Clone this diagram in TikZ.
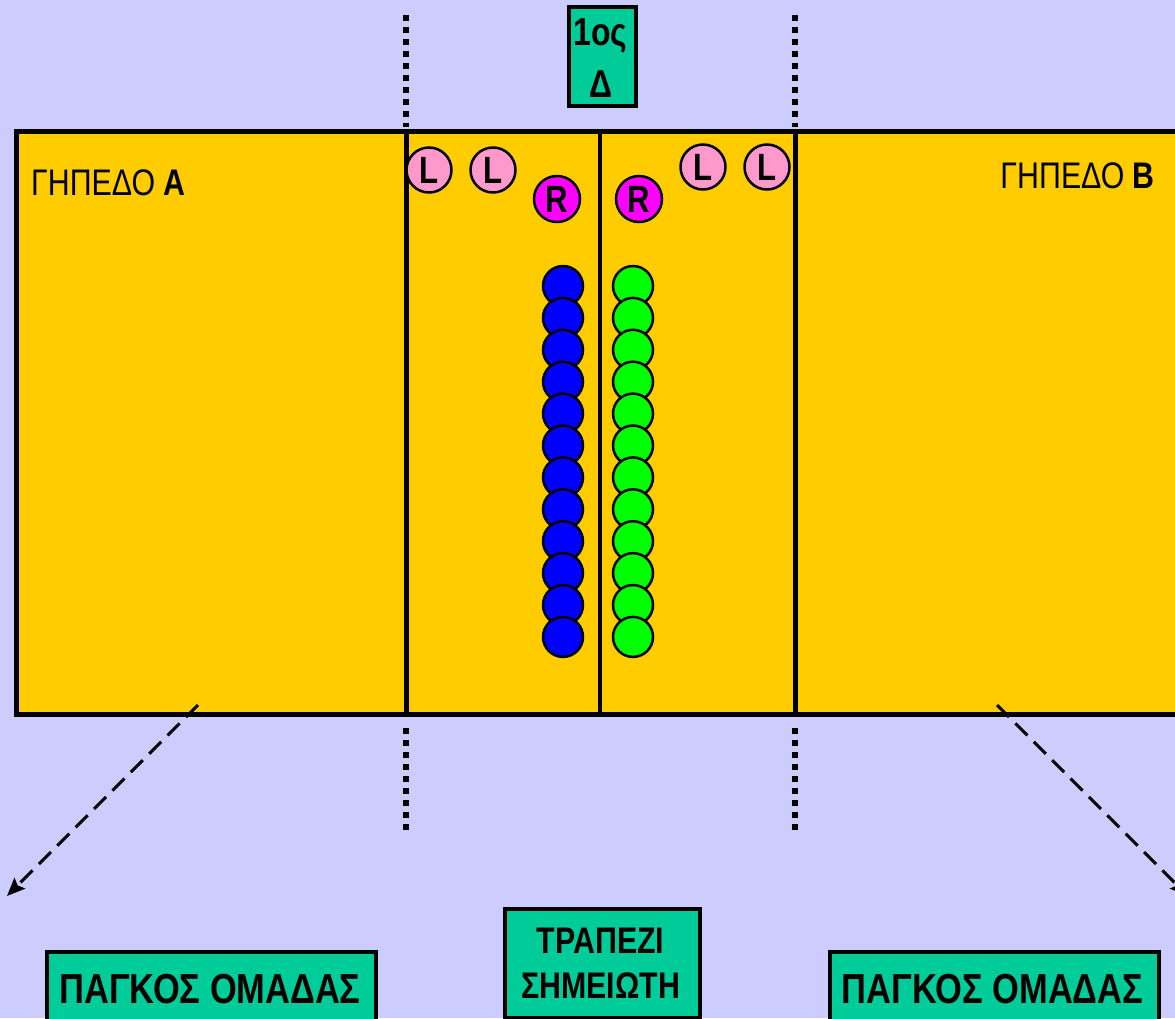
\documentclass[tikz,border=0pt]{standalone}
\usepackage{fontspec}
\setmainfont{Liberation Sans}
\newfontfamily\nar[FakeStretch=0.82]{Liberation Sans}
\usetikzlibrary{arrows.meta}
\definecolor{bgc}{HTML}{CCCCFF}
\definecolor{courtc}{HTML}{FFCC00}
\definecolor{boxc}{HTML}{00CC99}
\definecolor{pinkc}{HTML}{FF99CC}
\definecolor{magc}{HTML}{FF00FF}
\definecolor{bluec}{HTML}{0000FF}
\definecolor{greenc}{HTML}{00FF00}
\begin{document}
\begin{tikzpicture}[x=1pt,y=-1pt,
  courtline/.style={line width=5pt},
  dotline/.style={line width=5.5pt, dash pattern=on 5.5pt off 6.5pt},
  lcirc/.style={circle, draw, line width=2.5pt, fill=pinkc, minimum size=45pt, inner sep=0pt, font=\nar\bfseries\fontsize{38}{38}\selectfont},
  rcirc/.style={lcirc, fill=magc, minimum size=46pt},
  ball/.style={circle, draw, line width=2.5pt, minimum size=40pt, inner sep=0pt},
  gbox/.style={draw, line width=3.5pt, fill=boxc, inner sep=0pt, anchor=north west},
  btxt/.style={inner sep=0pt, anchor=base, font=\nar\bfseries\fontsize{42}{42}\selectfont},
  mtxt/.style={inner sep=0pt, anchor=base, font=\nar\bfseries\fontsize{37}{37}\selectfont},
  ttxt/.style={inner sep=0pt, anchor=base, font=\nar\bfseries\fontsize{39}{39}\selectfont},
  ctxt/.style={inner sep=0pt, font=\nar\fontsize{37}{37}\selectfont},
  dasharrow/.style={line width=3pt, dash pattern=on 17pt off 9pt, -{Stealth[length=18pt,width=15pt,inset=3pt]}}
]
\clip (0,0) rectangle (1175,1018);
\fill[bgc] (0,0) rectangle (1175,1018);

% court
\draw[courtline, fill=courtc] (16,131) rectangle (1195,714);
\coordinate (v1t) at (406,131); \coordinate (v1b) at (406,714);
\coordinate (v2t) at (600,131); \coordinate (v2b) at (600,714);
\coordinate (v3t) at (795,131); \coordinate (v3b) at (795,714);
\draw[courtline] (v1t) -- (v1b);
\draw[line width=4pt] (v2t) -- (v2b);
\draw[courtline] (v3t) -- (v3b);

% dotted lines
\coordinate (d1a) at (406,15); \coordinate (d1b) at (406,127);
\coordinate (d2a) at (795,15); \coordinate (d2b) at (795,127);
\coordinate (d3a) at (406,728); \coordinate (d3b) at (406,830);
\coordinate (d4a) at (795,728); \coordinate (d4b) at (795,830);
\draw[dotline] (d1a) -- (d1b);
\draw[dotline] (d2a) -- (d2b);
\draw[dotline] (d3a) -- (d3b);
\draw[dotline] (d4a) -- (d4b);

% labels
\node[ctxt, anchor=base west] (ga) at (31,195) {ΓΗΠΕΔΟ \textbf{Α}};
\node[ctxt, anchor=base east] (gb) at (1155,188) {ΓΗΠΕΔΟ \textbf{Β}};

% L and R circles
\node[lcirc] (l1) at (429,170) {L};
\node[lcirc] (l2) at (493,170) {L};
\node[rcirc] (r1) at (557,199) {R};
\node[rcirc] (r2) at (639,199) {R};
\node[lcirc] (l3) at (703,167) {L};
\node[lcirc] (l4) at (767,167) {L};

% ball columns
\foreach \i in {0,...,11}{
  \node[ball, fill=bluec] (b\i) at (563,286+31.9*\i) {};
  \node[ball, fill=greenc] (g\i) at (633,286+31.9*\i) {};
}

% top box
\node[gbox, minimum width=67pt, minimum height=99pt] (tb) at (567,5) {};
\node[ttxt] (tb1) at (600.5,45) {1ος};
\node[ttxt] (tb2) at (600.5,97) {Δ};

% bottom boxes
\node[gbox, minimum width=329pt, minimum height=110pt] (bench1) at (45,950) {};
\node[btxt] (bench1t) at (210,1003) {ΠΑΓΚΟΣ ΟΜΑΔΑΣ};
\node[gbox, minimum width=329pt, minimum height=110pt] (bench2) at (828,950) {};
\node[btxt] (bench2t) at (992.5,1003) {ΠΑΓΚΟΣ ΟΜΑΔΑΣ};
\node[gbox, minimum width=195pt, minimum height=109pt] (table) at (503,907) {};
\node[mtxt] (table1) at (600.5,953) {ΤΡΑΠΕΖΙ};
\node[mtxt] (table2) at (600.5,998) {ΣΗΜΕΙΩΤΗ};

% dashed arrows
\coordinate (a1s) at (198,705); \coordinate (a1e) at (7,896);
\coordinate (a2s) at (997,705); \coordinate (a2e) at (1188,896);
\draw[dasharrow] (a1s) -- (a1e);
\draw[dasharrow] (a2s) -- (a2e);
\end{tikzpicture}
\end{document}
